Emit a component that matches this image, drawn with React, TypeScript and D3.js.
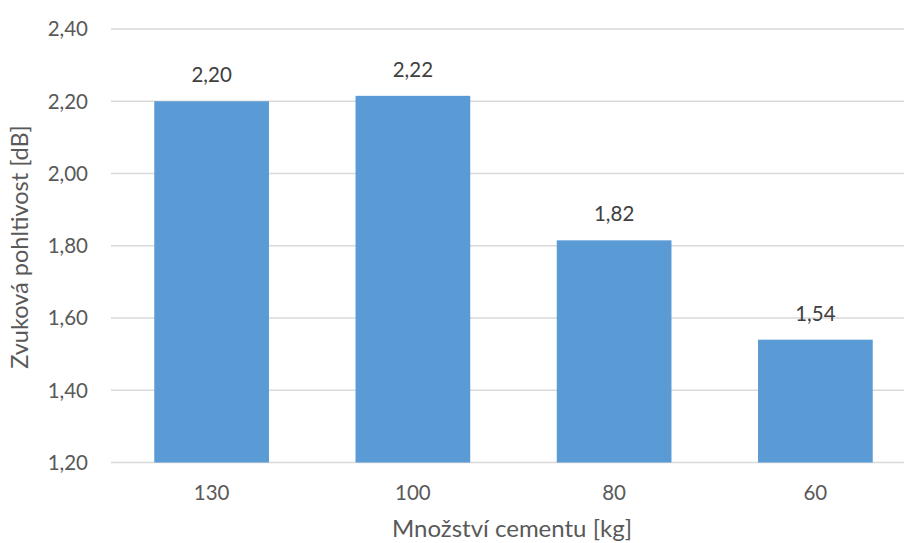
import React from "react";
import * as d3 from "d3";

const categories = ["130", "100", "80", "60"];
const values = [2.2, 2.215, 1.815, 1.54];
const valueLabels = ["2,20", "2,22", "1,82", "1,54"];
const yTicks = [1.2, 1.4, 1.6, 1.8, 2.0, 2.2, 2.4];

const W = 904;
const H = 543;
const margin = { left: 111, top: 29, bottom: 81 };
const plotRight = 916;
const FONT = "Lato, 'Open Sans', sans-serif";
const TEXT = "#595959";

export default function App() {
  const x = d3
    .scaleBand<string>()
    .domain(categories)
    .range([margin.left, plotRight])
    .paddingInner(0.43)
    .paddingOuter(0.215);
  const y = d3
    .scaleLinear()
    .domain([1.2, 2.4])
    .range([H - margin.bottom + 0.5, margin.top]);
  const fmt = (v: number) => v.toFixed(2).replace(".", ",");

  return (
    <svg
      width={W}
      height={H}
      style={{ position: "absolute", left: 0, top: 0, background: "#fff" }}
      fontFamily={FONT}
    >
      {yTicks.map((t) => (
        <g key={t}>
          <line
            x1={margin.left}
            x2={plotRight}
            y1={y(t)}
            y2={y(t)}
            stroke="#D9D9D9"
            strokeWidth={1.5}
          />
          <text
            x={88}
            y={y(t)}
            dy="0.36em"
            textAnchor="end"
            fontSize={20.5}
            fill={TEXT}
          >
            {fmt(t)}
          </text>
        </g>
      ))}
      {categories.map((c, i) => (
        <g key={c}>
          <rect
            x={x(c)}
            y={y(values[i])}
            width={x.bandwidth()}
            height={y(1.2) - y(values[i])}
            fill="#5B9BD5"
          />
          <text
            x={(x(c) as number) + x.bandwidth() / 2}
            y={y(values[i]) - 19}
            textAnchor="middle"
            fontSize={20.5}
            fill="#404040"
          >
            {valueLabels[i]}
          </text>
          <text
            x={(x(c) as number) + x.bandwidth() / 2}
            y={500}
            textAnchor="middle"
            fontSize={20.5}
            fill={TEXT}
          >
            {c}
          </text>
        </g>
      ))}
      <text
        x={512}
        y={537}
        textAnchor="middle"
        fontSize={24}
        fill={TEXT}
      >
        Množství cementu [kg]
      </text>
      <text
        transform={`translate(28,247) rotate(-90)`}
        textAnchor="middle"
        fontSize={23.5}
        fill={TEXT}
      >
        Zvuková pohltivost [dB]
      </text>
    </svg>
  );
}
